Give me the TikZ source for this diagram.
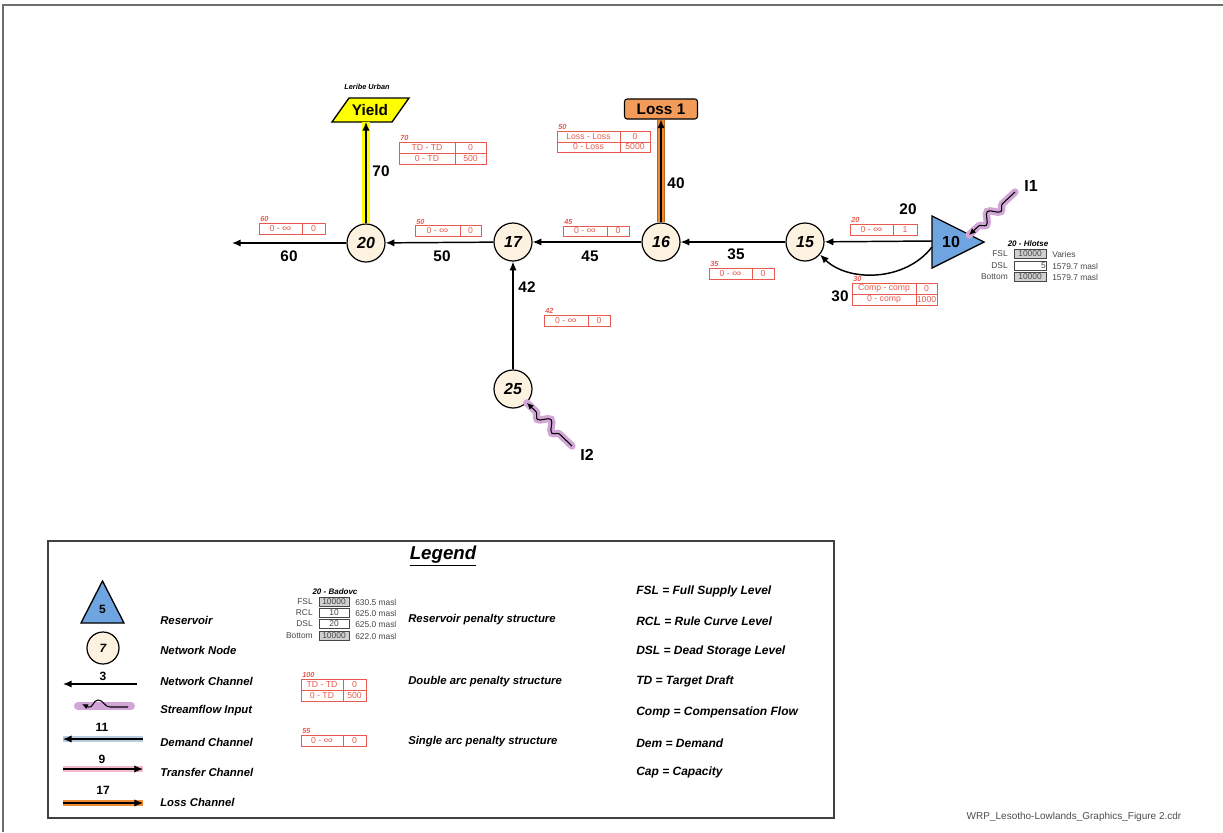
\documentclass[tikz,border=0pt]{standalone}
\usepackage{fontspec}
\setmainfont{Liberation Sans}
\usetikzlibrary{arrows.meta,decorations.pathmorphing}
\definecolor{resblue}{RGB}{110,165,225}
\definecolor{nodecream}{RGB}{253,242,224}
\definecolor{penred}{RGB}{232,90,80}
\definecolor{lossor}{RGB}{240,138,50}
\definecolor{lossedge}{RGB}{190,100,30}
\definecolor{lossfill}{RGB}{243,156,90}
\definecolor{glow}{RGB}{210,165,215}
\definecolor{demblue}{RGB}{184,205,224}
\definecolor{trpink}{RGB}{242,184,207}
\definecolor{yel}{RGB}{255,255,0}
\definecolor{tabgray}{RGB}{208,208,208}
\definecolor{framegray}{RGB}{110,110,110}
\definecolor{tabtext}{RGB}{70,70,70}
\newcommand\fs[1]{\fontsize{#1}{#1}\selectfont}
\newcommand\infsym{\scalebox{1.5}[1.1]{∞}}
% penalty row: name, x1, xd, x2, y1, y2, left, right
\newcommand\prow[8]{%
  \draw[pen] (#2,#5) rectangle (#4,#6);
  \draw[pen] (#3,#5) -- (#3,#6);
  \node[ptxt] (#1a) at ({(#2+#3)/2},{(#5+#6)/2}) {#7};
  \node[ptxt] (#1b) at ({(#3+#4)/2},{(#5+#6)/2}) {#8};}
% reservoir row: name, xl, xb1, xb2, y, label, value, fill, right text
\newcommand\rrow[9]{%
  \node[rt, anchor=east] (#1l) at (#2,#5) {#6};
  \draw[line width=0.5pt, draw=tabtext, fill=#8] (#3,#5-4.5) rectangle (#4,#5+4.5);
  \node[rt] (#1v) at ({(#3+#4)/2},#5) {#7};
  \node[rt, anchor=west] (#1r) at (#4+6,#5) {#9};}
\begin{document}
\begin{tikzpicture}[x=0.75pt,y=-0.75pt,
  pen/.style={draw=penred, line width=0.5pt},
  ptxt/.style={text=penred, font=\fs{6.5}, inner sep=0},
  plab/.style={text=penred, font=\fs{5.5}\bfseries\itshape, inner sep=0, anchor=south west},
  rt/.style={text=tabtext, font=\fs{6.3}, inner sep=0},
  netnode/.style={circle, draw, line width=0.9pt, fill=nodecream, minimum size=28.5pt, inner sep=0, font=\fs{12}\bfseries\itshape},
  chan/.style={line width=1.1pt, -{Latex[length=6.5pt,width=5.5pt]}},
  clab/.style={font=\fs{11.5}\bfseries, inner sep=0},
  leg/.style={font=\fs{8.5}\bfseries\itshape, anchor=west, inner sep=0},
  legr/.style={font=\fs{9}\bfseries\itshape, anchor=west, inner sep=0},
  sfdec/.style={decorate, decoration={snake, amplitude=3.5pt, segment length=15pt, pre length=13pt, post length=8pt}},
  sfglow/.style={sfdec, line width=5.5pt, draw=glow, line cap=round},
  sfline/.style={sfdec, line width=0.8pt, -{Latex[length=5pt,width=4.5pt]}}
]
\useasboundingbox (0,0) rectangle (1223,832);
\draw[framegray, line width=1.5pt] (3,832) -- (3,5) -- (1223,5);

% ---- network nodes
\node[netnode] (n20) at (366,243) {20};
\node[netnode] (n17) at (513,242) {17};
\node[netnode] (n16) at (661,242) {16};
\node[netnode] (n15) at (805,242) {15};
\node[netnode] (n25) at (513,389) {25};

% ---- reservoir
\filldraw[fill=resblue, line width=1pt] (932,216) -- (984,242) -- (932,268) -- cycle;
\node[font=\fs{12}\bfseries, inner sep=0] (r10) at (951,242) {10};
\coordinate (r10w) at (932,241);
\coordinate (r10s) at (932,247);
\coordinate (r10i) at (969,235);

% ---- yield
\filldraw[fill=yel, line width=1pt] (332,122) -- (349,98) -- (409,98) -- (392,122) -- cycle;
\node[font=\fs{11.5}\bfseries, inner sep=0] (yield) at (370,110) {Yield};
\coordinate (yb) at (366,122);
\node[font=\fs{5.5}\bfseries\itshape, inner sep=0] (leribe) at (367,87) {Leribe Urban};

% ---- loss
\node[draw, line width=0.8pt, rounded corners=2pt, fill=lossfill, minimum width=54.75pt, minimum height=15pt, inner sep=0, font=\fs{11.5}\bfseries] (loss) at (661,109) {Loss 1};

% ---- yellow channel 70
\draw[line width=6.2pt] (n20.north) -- (yb);
\draw[line width=5.6pt, yel] (n20.north) -- (yb);
\draw[chan, line width=0.9pt] (n20.north) -- (yb);
% ---- loss channel 40
\draw[line width=6pt, lossedge] (n16.north) -- (loss.south);
\draw[line width=5.2pt, lossor] (n16.north) -- (loss.south);
\draw[chan, line width=0.9pt] (n16.north) -- (loss.south);

% ---- network channels
\coordinate (c60) at (232,243);
\draw[chan] (r10w) -- (n15);
\draw[chan] (r10s) .. controls (905,282) and (848,282) .. (n15.-40);
\draw[chan] (n15) -- (n16);
\draw[chan] (n16) -- (n17);
\draw[chan] (n17) -- (n20);
\draw[chan] (n20) -- (c60);
\draw[chan] (n25) -- (n17);

% ---- streamflow inputs
\coordinate (i1s) at (1015,192);
\coordinate (i2s) at (572,446);
\draw[sfglow] (i1s) -- (r10i);
\draw[sfline] (i1s) -- (r10i);
\draw[sfglow] (i2s) -- (n25.-45);
\draw[sfline] (i2s) -- (n25.-45);
\node[font=\fs{12}\bfseries, inner sep=0] (i1) at (1031,186) {I1};
\node[font=\fs{12}\bfseries, inner sep=0] (i2) at (587,455) {I2};

% ---- channel labels
\node[clab] (l70) at (381,171) {70};
\node[clab] (l40) at (676,183) {40};
\node[clab] (l20) at (908,209) {20};
\node[clab] (l35) at (736,254) {35};
\node[clab] (l45) at (590,256) {45};
\node[clab] (l50) at (442,256) {50};
\node[clab] (l60) at (289,256) {60};
\node[clab] (l42) at (527,287) {42};
\node[clab] (l30) at (840,296) {30};

% ---- penalty structures
\node[plab] (p70l) at (400,141) {70};
\prow{p70r1}{399}{455}{486}{142}{153}{TD - TD}{0}
\prow{p70r2}{399}{455}{486}{153}{164}{0 - TD}{500}
\node[plab] (p50ll) at (558,130) {50};
\prow{p50r1}{557}{620}{650}{131}{142}{Loss - Loss}{0}
\prow{p50r2}{557}{620}{650}{142}{152}{0 - Loss}{5000}
\node[plab] (p60l) at (260,222) {60};
\prow{p60}{259}{302}{325}{223}{234}{0 - \infsym}{0}
\node[plab] (p50l) at (416,225) {50};
\prow{p50}{415}{460}{481}{225}{236}{0 - \infsym}{0}
\node[plab] (p45l) at (564,225) {45};
\prow{p45}{563}{607}{629}{226}{236}{0 - \infsym}{0}
\node[plab] (p35l) at (710,267) {35};
\prow{p35}{709}{752}{774}{268}{279}{0 - \infsym}{0}
\node[plab] (p20l) at (851,223) {20};
\prow{p20}{850}{893}{917}{224}{235}{0 - \infsym}{1}
\node[plab] (p30l) at (853,282) {30};
\prow{p30r1}{852}{916}{937}{283}{294}{Comp - comp}{0}
\prow{p30r2}{852}{916}{937}{294}{305}{0 - comp}{1000}
\node[plab] (p42l) at (545,314) {42};
\prow{p42}{544}{588}{610}{315}{326}{0 - \infsym}{0}

% ---- Hlotse table
\node[font=\fs{6}\bfseries\itshape, inner sep=0] (hlt) at (1028,244) {20 - Hlotse};
\rrow{hfsl}{1008}{1014}{1046}{254}{FSL}{10000}{tabgray}{Varies}
\rrow{hdsl}{1008}{1014}{1046}{266}{DSL}{\hspace*{20pt}5}{white}{1579.7 masl}
\rrow{hbot}{1008}{1014}{1046}{277}{Bottom}{10000}{tabgray}{1579.7 masl}

% ---- Legend
\draw[line width=1.1pt, draw=black!75] (48,541) rectangle (834,818);
\node[font=\fs{14}\bfseries\itshape, inner sep=0] (legtitle) at (443,556) {\underline{Legend}};

\filldraw[fill=resblue, line width=1pt] (81,623) -- (124,623) -- (102.5,581) -- cycle;
\node[font=\fs{9}\bfseries, inner sep=0] (lg5) at (102.5,609) {5};
\node[netnode, minimum size=24pt, font=\fs{9}\bfseries\itshape] (lg7) at (103,648) {7};

\coordinate (lc3a) at (137,684); \coordinate (lc3b) at (63,684);
\draw[chan] (lc3a) -- (lc3b);
\node[font=\fs{9}\bfseries, inner sep=0] (lg3) at (103,676) {3};

\coordinate (lsa) at (78,706); \coordinate (lsb) at (131,706);
\coordinate (lsw) at (128,707); \coordinate (lse) at (82,704);
\draw[line width=6pt, glow, line cap=round] (lsa) -- (lsb);
\draw[line width=0.8pt, -{Latex[length=4.5pt,width=4pt]}] (lsw) -- (110,707) .. controls (104,707) and (104,700) .. (98,700) .. controls (93,700) and (93,709) .. (88,707) -- (lse);

\coordinate (lda) at (143,739); \coordinate (ldb) at (63,739);
\draw[line width=5pt, demblue] (lda) -- (ldb);
\draw[chan, line width=0.8pt] (lda) -- (ldb);
\node[font=\fs{9}\bfseries, inner sep=0] (lg11) at (102,727) {11};

\coordinate (lta) at (63,769); \coordinate (ltb) at (143,769);
\draw[line width=5pt, trpink] (lta) -- (ltb);
\draw[chan, line width=0.8pt] (lta) -- (ltb);
\node[font=\fs{9}\bfseries, inner sep=0] (lg9) at (102,759) {9};

\coordinate (lla) at (63,803); \coordinate (llb) at (143,803);
\draw[line width=5pt, lossor] (lla) -- (llb);
\draw[chan, line width=0.8pt] (lla) -- (llb);
\node[font=\fs{9}\bfseries, inner sep=0] (lg17) at (103,790) {17};

\node[leg] (t1) at (160,620) {Reservoir};
\node[leg] (t2) at (160,650) {Network Node};
\node[leg] (t3) at (160,681) {Network Channel};
\node[leg] (t4) at (160,711) {Streamflow Input};
\node[leg] (t5) at (160,742) {Demand Channel};
\node[leg] (t6) at (160,772) {Transfer Channel};
\node[leg] (t7) at (160,802) {Loss Channel};

\node[font=\fs{6}\bfseries\itshape, inner sep=0] (bdt) at (335,592) {20 - Badovc};
\rrow{bfsl}{313}{319}{349}{602}{FSL}{10000}{tabgray}{630.5 masl}
\rrow{brcl}{313}{319}{349}{613}{RCL}{10}{white}{625.0 masl}
\rrow{bdsl}{313}{319}{349}{624}{DSL}{20}{white}{625.0 masl}
\rrow{bbot}{313}{319}{349}{636}{Bottom}{10000}{tabgray}{622.0 masl}
\node[leg] (m1) at (408,620) {Reservoir penalty structure};

\node[plab] (p100l) at (302,678) {100};
\prow{p100r1}{301}{343}{366}{679}{690}{TD - TD}{0}
\prow{p100r2}{301}{343}{366}{690}{701}{0 - TD}{500}
\node[leg] (m2) at (408,682) {Double arc penalty structure};

\node[plab] (p55l) at (302,734) {55};
\prow{p55}{301}{343}{366}{735}{746}{0 - \infsym}{0}
\node[leg] (m3) at (408,742) {Single arc penalty structure};

\node[legr] (r1) at (636,591) {FSL = Full Supply Level};
\node[legr] (r2) at (636,621) {RCL = Rule Curve Level};
\node[legr] (r3) at (636,651) {DSL = Dead Storage Level};
\node[legr] (r4) at (636,681) {TD = Target Draft};
\node[legr] (r5) at (636,712) {Comp = Compensation Flow};
\node[legr] (r6) at (636,743) {Dem = Demand};
\node[legr] (r7) at (636,772) {Cap = Capacity};

\node[font=\fs{7.5}, text=black!70, inner sep=0] (footer) at (1074,817) {WRP\_Lesotho-Lowlands\_Graphics\_Figure 2.cdr};
\end{tikzpicture}
\end{document}
